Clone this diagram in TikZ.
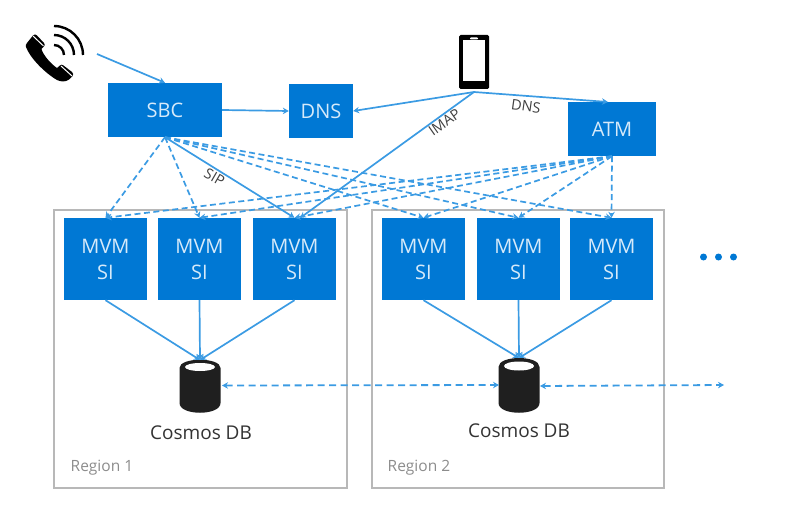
\documentclass[tikz,border=0pt]{standalone}
\usepackage{fontspec}
\setmainfont{Open Sans}
\usetikzlibrary{arrows.meta}
\definecolor{boxblue}{HTML}{0078D4}
\definecolor{linkblue}{HTML}{3B9BE3}
\definecolor{boxtext}{HTML}{D6EAFA}
\definecolor{frame}{HTML}{B8B8B8}
\tikzset{
  x=1pt,y=-1pt,
  bluebox/.style={fill=boxblue,draw=none,text=boxtext,align=center,inner sep=0pt,font=\fontsize{20}{26}\selectfont},
  mvmbox/.style={bluebox,minimum width=83pt,minimum height=82pt},
  regionbox/.style={draw=frame,line width=1.1pt,fill=none},
  link/.style={draw=linkblue,line width=1.7pt,-{Stealth[length=6pt,width=6.5pt]}},
  dlink/.style={link,dash pattern=on 6pt off 3.5pt},
  twoway/.style={draw=linkblue,line width=1.8pt,dash pattern=on 7pt off 4.5pt,{Stealth[length=6pt,width=6.5pt]}-{Stealth[length=6pt,width=6.5pt]}},
  edgelabel/.style={text=black!75,font=\fontsize{14.5}{16}\selectfont,inner sep=0pt},
  dblabel/.style={text=black!80,font=\fontsize{19}{22}\selectfont,inner sep=0pt},
  regionlabel/.style={text=black!45,font=\fontsize{15.5}{18}\selectfont,inner sep=0pt,anchor=west},
  dot/.style={circle,fill=boxblue,inner sep=0pt,minimum size=7pt},
}
\begin{document}
\begin{tikzpicture}
\useasboundingbox (0,0) rectangle (789,516);
% regions
\node[regionbox,minimum width=293pt,minimum height=278pt,inner sep=0pt] (r1) at (200.5,349) {};
\node[regionbox,minimum width=292pt,minimum height=278pt,inner sep=0pt] (r2) at (518,349) {};
% boxes
\node[bluebox,minimum width=114pt,minimum height=54pt] (sbc) at (165,110) {SBC};
\node[bluebox,minimum width=64pt,minimum height=54pt] (dns) at (321,111) {DNS};
\node[bluebox,minimum width=88pt,minimum height=54pt] (atm) at (612,129) {ATM};
\node[mvmbox] (m1) at (105.5,259) {MVM\\SI};
\node[mvmbox] (m2) at (199.5,259) {MVM\\SI};
\node[mvmbox] (m3) at (294.5,259) {MVM\\SI};
\node[mvmbox] (m4) at (423.5,259) {MVM\\SI};
\node[mvmbox] (m5) at (518.5,259) {MVM\\SI};
\node[mvmbox] (m6) at (611.5,259) {MVM\\SI};
% cosmos cylinders
\fill[black!88] (179.5,368) .. controls (179.5,357) and (220.5,357) .. (220.5,368)
  -- (220.5,403) .. controls (220.5,416) and (179.5,416) .. (179.5,403) -- cycle;
\fill[white] (200,367) ellipse (15 and 4);
\fill[black!88] (498.5,367) .. controls (498.5,355) and (539.5,355) .. (539.5,367)
  -- (539.5,403) .. controls (539.5,416) and (498.5,416) .. (498.5,403) -- cycle;
\fill[white] (519,366) ellipse (15 and 4.5);
\coordinate (db1) at (200,360);
\coordinate (db2) at (519,358);
\coordinate (db1r) at (222,385.5);
\coordinate (db2l) at (499,385);
\coordinate (db2r) at (540,386);
\coordinate (east) at (724,385);
\node[dblabel] (c1) at (201,433) {Cosmos DB};
\node[dblabel] (c2) at (519,431) {Cosmos DB};
\node[regionlabel] (l1) at (70.5,468) {Region 1};
\node[regionlabel] (l2) at (387.5,468) {Region 2};
% phone handset
\fill[black] (27,43) -- (33,35.5) .. controls (34,34) and (36,34) .. (37,35.5) -- (44,43) .. controls (45,44.5) and (45,45.5) .. (44,46.5) -- (41.5,49)
  .. controls (43,55) and (51,64) .. (57,68) -- (60,65.5) .. controls (61,64.5) and (62.5,64.5) .. (63.5,65.5) -- (72,72) .. controls (73.5,73) and (73.5,75) .. (72.5,76)
  -- (69,79.5) .. controls (66,82) and (61,82) .. (57,80) .. controls (45,73) and (30,58) .. (26,47) .. controls (25.5,45.5) and (26,44) .. (27,43) -- cycle;
\draw[white,line width=1pt] (33,36) -- (43.5,46) (61,66) -- (72,76);
\draw[black,line width=2.4pt] (54,45) arc[start angle=-90,end angle=0,radius=10];
\draw[black,line width=2.4pt] (54,35) arc[start angle=-90,end angle=0,radius=20];
\draw[black,line width=2.4pt] (54,26) arc[start angle=-90,end angle=0,radius=29];
\coordinate (call) at (97,54);
% mobile phone
\fill[black,rounded corners=1.5pt] (459,35) rectangle (489,89);
\fill[white] (463,40) rectangle (485,81);
\fill[white,rounded corners=0.8pt] (470,37.5) rectangle (478,39.5);
\coordinate (mobile) at (474,92);
% solid connectors
\draw[link] (call) -- (sbc.north);
\draw[link] (sbc.east) -- (dns.west);
\draw[link] (mobile) -- (dns.east);
\draw[link] (mobile) -- (608,102) coordinate (atmtop);
\draw[link] (mobile) -- (300,218) coordinate (m3r);
\draw[link] (sbc.south) -- (m3.north);
% SBC dashed
\draw[dlink] (sbc.south) -- (m1.north);
\draw[dlink] (sbc.south) -- (m2.north);
\draw[dlink] (sbc.south) -- (m4.north);
\draw[dlink] (sbc.south) -- (m5.north);
\draw[dlink] (sbc.south) -- (m6.north);
% ATM dashed
\draw[dlink] (atm.south) -- (m1.north);
\draw[dlink] (atm.south) -- (m2.north);
\draw[dlink] (atm.south) -- (m3.north);
\draw[dlink] (atm.south) -- (m4.north);
\draw[dlink] (atm.south) -- (m5.north);
\draw[dlink] (atm.south) -- (m6.north);
% to DB
\draw[link] (m1.south) -- (db1);
\draw[link] (m2.south) -- (db1);
\draw[link] (m3.south) -- (db1);
\draw[link] (m4.south) -- (db2);
\draw[link] (m5.south) -- (db2);
\draw[link] (m6.south) -- (db2);
\draw[twoway] (db1r) -- (db2l);
\draw[twoway] (db2r) -- (east);
% edge labels
\node[edgelabel,rotate=-30] (sip) at (214.5,177) {SIP};
\node[edgelabel,rotate=35] (imap) at (444.5,122.5) {IMAP};
\node[edgelabel,rotate=-8] (dnsl) at (526,106) {DNS};
% ellipsis
\node[dot] (d1) at (703.5,257) {};
\node[dot] (d2) at (718.5,257) {};
\node[dot] (d3) at (733.5,257) {};
\end{tikzpicture}
\end{document}
